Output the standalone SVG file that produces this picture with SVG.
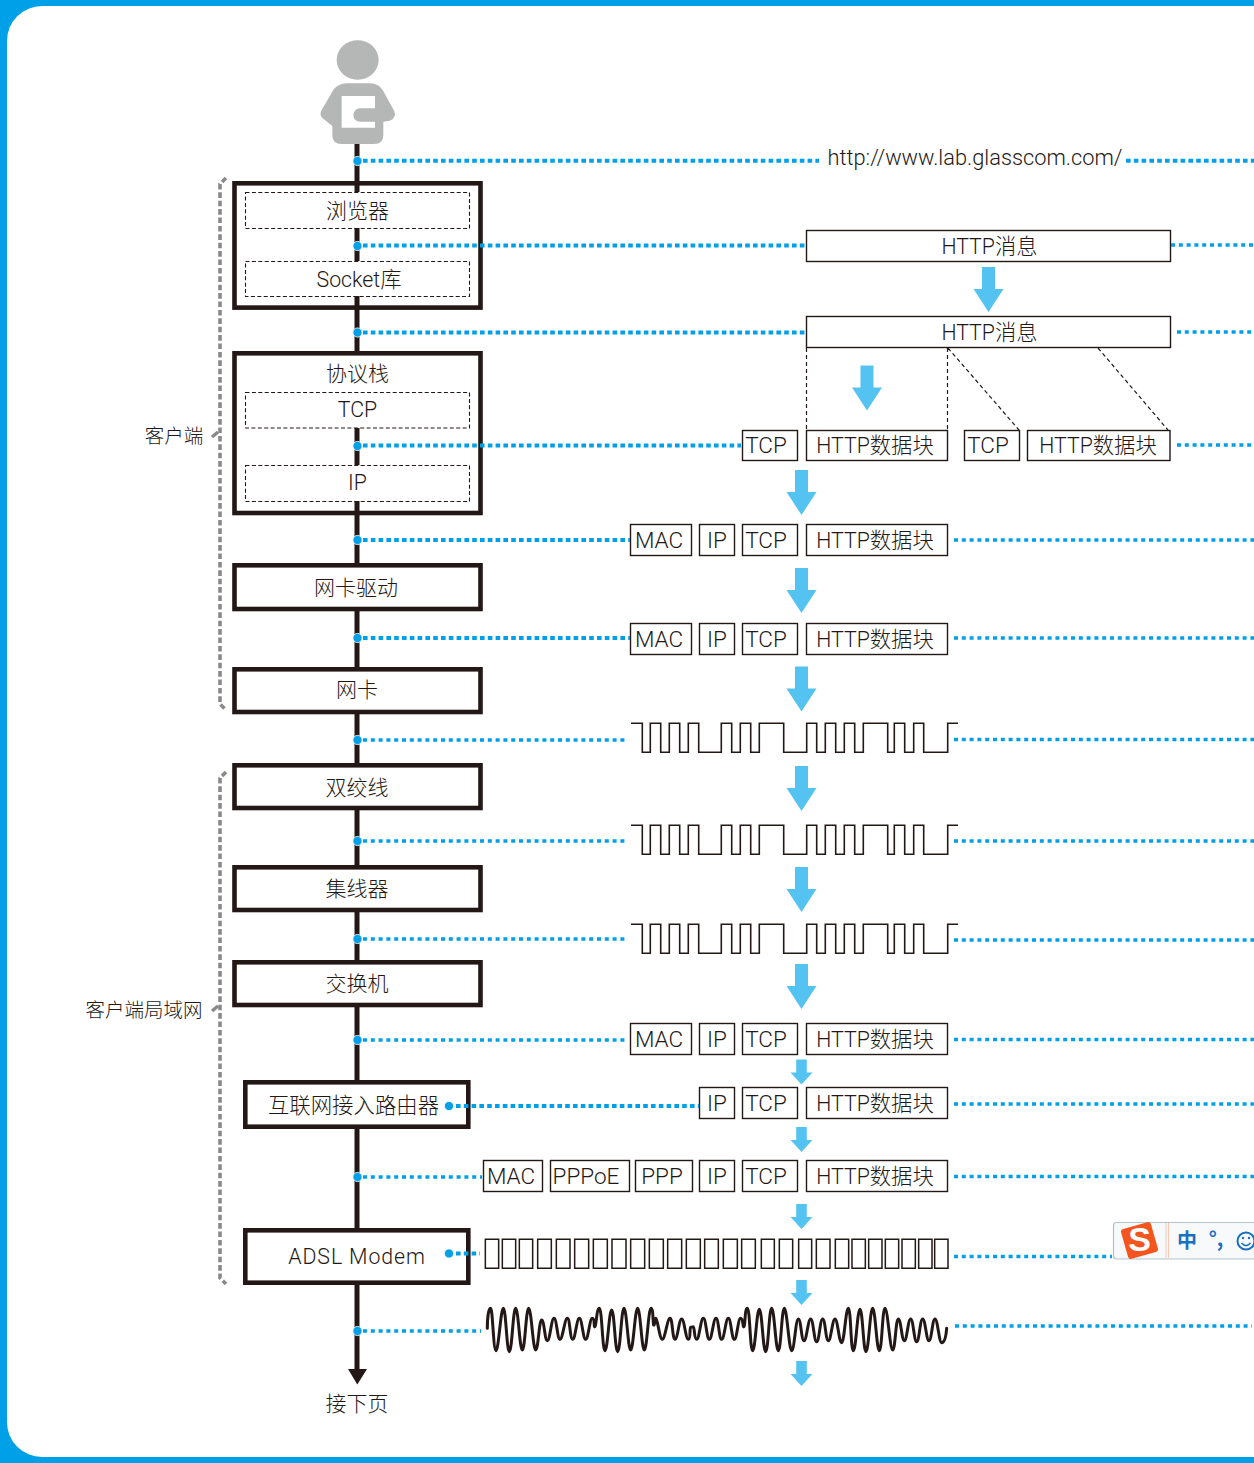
<svg xmlns="http://www.w3.org/2000/svg" xmlns:xlink="http://www.w3.org/1999/xlink" width="1254" height="1463" viewBox="0 0 1254 1463">
<style>
text{font-family:"Roboto","Noto Sans CJK SC",sans-serif;font-weight:300;fill:#231815;text-anchor:middle}
.cjk{font-family:"Noto Sans CJK SC",sans-serif;font-weight:300;font-size:21px}
.side{font-family:"Noto Sans CJK SC",sans-serif;font-weight:300;font-size:19.5px}
.mix{font-size:21.3px}
.lat{font-size:22.5px}
.outer{fill:#fff;stroke:#231815;stroke-width:4.6}
.dash{fill:#fff;stroke:#231815;stroke-width:1.1;stroke-dasharray:4 2.4}
.cell{fill:#fff;stroke:#231815;stroke-width:1.4}
.split{fill:none;stroke:#231815;stroke-width:1.2;stroke-dasharray:4 3}
.spine{stroke:#231815;stroke-width:5;fill:none}
.dot{stroke:#00a0e9;stroke-width:4;stroke-dasharray:4.6 3.2;fill:none}
.dotR{stroke:#00a0e9;stroke-width:3.5;stroke-dasharray:4 3.8;fill:none}
.node{fill:#00a0e9;stroke:#fff;stroke-width:.8}
.brace{stroke:#898989;stroke-width:3.6;stroke-dasharray:5.6 2.8;fill:none}
.tick{stroke:#898989;stroke-width:3.4;fill:none}
.wave{fill:none;stroke:#231815;stroke-width:1.6}
.flow{fill:#55c3f2}
.ime{font-family:"Noto Sans CJK SC",sans-serif;font-weight:700;fill:#1a6fc0}
</style>
<defs>
<polygon id="big" points="-6.5,0 6.5,0 6.5,22 15,22 0,45 -15,22 -6.5,22"/>
<polygon id="small" points="-5.3,0 5.3,0 5.3,13 11,13 0,25 -11,13 -5.3,13"/>
<path id="sq" d="M631,723.3H642.3V752.3H650.3V723.3H660.7V752.3H669.3V723.3H679.7V752.3H688.3V723.3H698.7V752.3H721.3V723.3H731.7V752.3H740.3V723.3H750.7V752.3H759.3V723.3H783.7V752.3H806.7V723.3H816.7V752.3H825.3V723.3H835.7V752.3H844.3V723.3H854.7V752.3H863.3V723.3H887.7V752.3H894.3V723.3H904.7V752.3H913.7V723.3H923.7V752.3H947.7V723.3H958"/>
</defs>
<rect width="1254" height="1463" fill="#00a0e9"/>
<path d="M1254,6H42A35,35 0 0 0 7,41V1422A35,35 0 0 0 42,1457H1254Z" fill="#fff"/>

<g id="user" transform="translate(200,20) scale(.33333)">
<ellipse cx="473" cy="120" rx="63" ry="59" fill="#b5b6b6"/>
<path d="M440,190H510Q535,190 548,210L580,268Q590,285 580,295Q572,305 550,305V345Q550,372 522,372H425Q397,372 397,345V318L368,295Q355,283 368,265L400,210Q415,190 440,190Z" fill="#b5b6b6"/>
<path d="M425,228H525V265H480A20,20 0 0 0 480,305H525V323H425Z" fill="#fff"/>
</g>

<g id="url"><text x="975" y="165" font-size="21.8">http://www.lab.glasscom.com/</text></g>

<g id="client-brace"><path class="brace" d="M226,178L220,184V704L226,710"/><path class="tick" d="M212,437L218,432"/><text class="side" x="174" y="443">客户端</text></g>
<g id="lan-brace"><path class="brace" d="M226,772L220,778V1278L226,1284"/><path class="tick" d="M212,1011L218,1006"/><text class="side" x="144" y="1017">客户端局域网</text></g>

<g id="browser-socket">
<rect class="outer" x="234.5" y="183.3" width="246" height="124.3"/>
<rect class="dash" x="245.5" y="192.5" width="224" height="36"/>
<text class="cjk" x="357.5" y="218">浏览器</text>
<rect class="dash" x="245.5" y="261.5" width="224" height="35"/>
<text class="mix" x="359" y="287">Socket库</text>
</g>
<g id="protocol-stack">
<rect class="outer" x="234.5" y="353.3" width="246" height="159.7"/>
<text class="cjk" x="357.5" y="381">协议栈</text>
<rect class="dash" x="245.5" y="392.5" width="224" height="35.5"/>
<text class="mix" x="357.5" y="417">TCP</text>
<rect class="dash" x="245.5" y="465.5" width="224" height="36"/>
<text class="mix" x="357.5" y="490">IP</text>
</g>
<g id="nic-driver"><rect class="outer" x="234.5" y="565.3" width="246" height="43.7"/><text class="cjk" x="356" y="595">网卡驱动</text></g>
<g id="nic"><rect class="outer" x="234.5" y="669.3" width="246" height="42.7"/><text class="cjk" x="357" y="697">网卡</text></g>
<g id="twisted-pair"><rect class="outer" x="234.5" y="765.3" width="246" height="42.7"/><text class="cjk" x="357" y="795">双绞线</text></g>
<g id="hub"><rect class="outer" x="234.5" y="867.3" width="246" height="42.7"/><text class="cjk" x="357" y="896">集线器</text></g>
<g id="switch"><rect class="outer" x="234.5" y="962.3" width="246" height="42.7"/><text class="cjk" x="357" y="991">交换机</text></g>
<g id="router"><rect class="outer" x="245.3" y="1082.3" width="223" height="44.4"/><text class="cjk" x="353.5" y="1113" font-size="21.4" style="font-size:21.4px">互联网接入路由器</text></g>
<g id="modem"><rect class="outer" x="245.3" y="1230.3" width="223" height="52.4"/><text class="mix" x="357" y="1264" letter-spacing=".9">ADSL Modem</text></g>
<g id="next"><text class="cjk" x="357" y="1411">接下页</text></g>

<g id="http-msg-1"><rect class="cell" x="806.5" y="230.5" width="364" height="31"/><text class="mix" x="989.5" y="254">HTTP消息</text></g>
<g id="http-msg-2"><rect class="cell" x="806.5" y="316.5" width="364" height="31"/><text class="mix" x="989.5" y="340">HTTP消息</text></g>
<g id="split-lines"><path class="split" d="M806.5,348V430M947.5,348V430M948,348L1019,430M1098,348L1168,430"/></g>

<g id="tcp-segments">
<rect class="cell" x="742.5" y="430.5" width="55" height="30"/><text class="lat" x="766" y="453">TCP</text>
<rect class="cell" x="806.5" y="430.5" width="141" height="30"/><text class="mix" x="875" y="453">HTTP数据块</text>
<rect class="cell" x="964.5" y="430.5" width="55" height="30"/><text class="lat" x="988" y="453">TCP</text>
<rect class="cell" x="1027.5" y="430.5" width="142.5" height="30"/><text class="mix" x="1098" y="453">HTTP数据块</text>
</g>
<g id="frame-1" transform="translate(0,524)">
<rect class="cell" x="630.5" y=".5" width="61" height="31"/><text class="lat" x="659" y="24">MAC</text>
<rect class="cell" x="699.5" y=".5" width="35" height="31"/><text class="lat" x="717" y="24">IP</text>
<rect class="cell" x="742.5" y=".5" width="55" height="31"/><text class="lat" x="766" y="24">TCP</text>
<rect class="cell" x="806.5" y=".5" width="141" height="31"/><text class="mix" x="875" y="24">HTTP数据块</text>
</g>
<g id="frame-2" transform="translate(0,623)">
<rect class="cell" x="630.5" y=".5" width="61" height="31"/><text class="lat" x="659" y="24">MAC</text>
<rect class="cell" x="699.5" y=".5" width="35" height="31"/><text class="lat" x="717" y="24">IP</text>
<rect class="cell" x="742.5" y=".5" width="55" height="31"/><text class="lat" x="766" y="24">TCP</text>
<rect class="cell" x="806.5" y=".5" width="141" height="31"/><text class="mix" x="875" y="24">HTTP数据块</text>
</g>
<g id="signal-1"><use href="#sq" class="wave"/></g>
<g id="signal-2"><use href="#sq" class="wave" y="102"/></g>
<g id="signal-3"><use href="#sq" class="wave" y="201"/></g>
<g id="frame-3" transform="translate(0,1023)">
<rect class="cell" x="630.5" y=".5" width="61" height="31"/><text class="lat" x="659" y="24">MAC</text>
<rect class="cell" x="699.5" y=".5" width="35" height="31"/><text class="lat" x="717" y="24">IP</text>
<rect class="cell" x="742.5" y=".5" width="55" height="31"/><text class="lat" x="766" y="24">TCP</text>
<rect class="cell" x="806.5" y=".5" width="141" height="31"/><text class="mix" x="875" y="24">HTTP数据块</text>
</g>
<g id="packet-ip" transform="translate(0,1087)">
<rect class="cell" x="699.5" y=".5" width="35" height="31"/><text class="lat" x="717" y="24">IP</text>
<rect class="cell" x="742.5" y=".5" width="55" height="31"/><text class="lat" x="766" y="24">TCP</text>
<rect class="cell" x="806.5" y=".5" width="141" height="31"/><text class="mix" x="875" y="24">HTTP数据块</text>
</g>
<g id="frame-pppoe" transform="translate(0,1160)">
<rect class="cell" x="483.5" y=".5" width="59" height="31"/><text class="lat" x="511" y="24">MAC</text>
<rect class="cell" x="550.5" y=".5" width="79" height="31"/><text class="lat" x="586" y="24">PPPoE</text>
<rect class="cell" x="635.5" y=".5" width="57" height="31"/><text class="lat" x="662" y="24">PPP</text>
<rect class="cell" x="699.5" y=".5" width="35" height="31"/><text class="lat" x="717" y="24">IP</text>
<rect class="cell" x="742.5" y=".5" width="55" height="31"/><text class="lat" x="766" y="24">TCP</text>
<rect class="cell" x="806.5" y=".5" width="141" height="31"/><text class="mix" x="875" y="24">HTTP数据块</text>
</g>
<g id="adsl-cells" fill="none" stroke="#231815" transform="translate(470,1200) scale(.33333)">
<path stroke-width="4.5" d="M46,118H86V205H46ZM97,118H137V205H97ZM148,118H188V205H148ZM203,118H244V205H203ZM259,118H300V205H259ZM314,118H356V205H314ZM370,118H412V205H370ZM426,118H468V205H426ZM482,118H524V205H482ZM538,118H580V205H538ZM593,118H635V205H593ZM649,118H691V205H649ZM704,118H745V205H704ZM760,118H802V205H760ZM815,118H856V205H815ZM874,118H913V205H874ZM928,118H968V205H928ZM986,118H1025V205H986ZM1039,118H1080V205H1039ZM1096,118H1136V205H1096ZM1146,118H1186V205H1146ZM1196,118H1236V205H1196ZM1246,118H1286V205H1246ZM1296,118H1336V205H1296ZM1346,118H1386V205H1346ZM1394,118H1434V205H1394Z"/>
</g>
<g id="adsl-wave" fill="none" stroke="#231815" stroke-linecap="round" transform="translate(470,1200) scale(.33333)">
<path stroke-width="9" d="M52,385C52,350 56,325 62,325S70,452 78,452S92,325 100,325S110,455 118,455S129,325 137,325S149,450 157,450S168,325 176,325S189,450 197,450S207,360 215,360S224,422 232,422S244,355 252,355S262,418 270,418S284,355 292,355S300,418 308,418S320,355 328,355S339,418 347,418S359,355 367,355S371,385 375,380S380,325 388,325S397,452 405,452S417,330 425,330S435,455 443,455S454,325 462,325S474,450 482,450S495,325 503,325S515,450 523,450S535,325 543,325S548,380 552,375S554,355 558,355S569,418 577,418S592,355 600,355S607,418 615,418S627,357 635,357S647,418 655,418S658,382 662,382S666,380 670,380S672,418 680,418S692,355 700,355S710,418 718,418S730,355 738,355S747,418 755,418S767,355 775,355S785,418 793,418S804,355 812,355S818,385 822,380S824,325 832,325S840,452 848,452S860,328 868,328S879,455 887,455S897,325 905,325S917,452 925,452S935,325 943,325S957,452 965,452S977,357 985,357S994,422 1002,422S1014,357 1022,357S1032,425 1040,425S1050,357 1058,357S1067,422 1075,422S1087,357 1095,357S1107,428 1115,428S1127,325 1135,325S1142,452 1150,452S1162,328 1170,328S1180,455 1188,455S1200,325 1208,325S1220,452 1228,452S1237,325 1245,325S1260,450 1268,450S1277,357 1285,357S1295,422 1303,422S1314,357 1322,357S1332,425 1340,425S1350,357 1358,357S1369,422 1377,422S1387,357 1395,357S1407,428 1415,428S1428,410 1430,385"/>
</g>

<g id="ime-bar">
<rect x="1113.5" y="1222.5" width="145" height="36.5" rx="3" fill="#f7f9fb" stroke="#b4c2ce" stroke-width="1.2"/>
<line x1="1166" y1="1223" x2="1166" y2="1258" stroke="#f8c8b4" stroke-width="1"/>
<line x1="1168.5" y1="1223" x2="1168.5" y2="1258" stroke="#f8c8b4" stroke-width="1"/>
<rect x="1124" y="1225" width="31" height="31" rx="3" fill="#f4551f" transform="rotate(-16 1139.5 1240.5)"/>
<text x="1139.5" y="1251" font-size="34" style="font-family:'Liberation Sans',sans-serif;font-weight:700;fill:#fff">S</text>
<text class="ime" x="1187" y="1248" font-size="20">中</text>
<text class="ime" x="1216" y="1246" font-size="20">°,</text>
<circle cx="1246" cy="1241" r="8.5" fill="none" stroke="#1a6fc0" stroke-width="2"/>
<circle cx="1243" cy="1238" r="1.2" fill="#1a6fc0"/><circle cx="1249" cy="1238" r="1.2" fill="#1a6fc0"/>
<path d="M1241.5,1243Q1246,1248 1250.5,1243" fill="none" stroke="#1a6fc0" stroke-width="1.6"/>
</g>

<g id="connectors">
<path class="spine" d="M357,144V192M357,228V261M357,296V352M357,428V465M357,501V563M357,611V667M357,714V763M357,810V865M357,912V960M357,1007V1080M357,1129V1228M357,1285V1371"/>
<polygon points="348,1369 367,1369 357.3,1384.5" fill="#231815"/>
<g>
<path class="dot" d="M363,160.8H819M1126,160.8H1254"/>
<path class="dot" d="M363,245.5H805"/><path class="dotR" d="M1171,245H1254"/>
<path class="dot" d="M363,332.5H806"/><path class="dotR" d="M1177,332H1254"/>
<path class="dot" d="M363,445.5H741"/><path class="dotR" d="M1177,445H1254"/>
<path class="dot" d="M363,540H630"/><path class="dotR" d="M954,540H1254"/>
<path class="dot" d="M363,638H630"/><path class="dotR" d="M954,638H1254"/>
<path class="dotR" d="M363,740H625M954,739.5H1254"/>
<path class="dotR" d="M363,841H625M954,841H1254"/>
<path class="dotR" d="M363,939H625M954,940H1254"/>
<path class="dotR" d="M363,1040H625M954,1039.5H1254"/>
<path class="dot" d="M456,1106H699"/><path class="dotR" d="M954,1104H1254"/>
<path class="dotR" d="M363,1177H482M954,1176.5H1254"/>
<path class="dot" d="M456,1253.5H480"/><path class="dotR" d="M954,1256.5H1112"/>
<path class="dotR" d="M363,1331H481M955,1326H1252"/>
</g>
<g>
<circle class="node" cx="357.5" cy="161" r="4.6"/><circle class="node" cx="357.5" cy="246" r="4.6"/><circle class="node" cx="357.5" cy="332.5" r="4.6"/><circle class="node" cx="357.5" cy="446" r="4.6"/><circle class="node" cx="357.5" cy="540" r="4.6"/><circle class="node" cx="357.5" cy="638" r="4.6"/><circle class="node" cx="357.5" cy="740" r="4.6"/><circle class="node" cx="357.5" cy="841" r="4.6"/><circle class="node" cx="357.5" cy="939" r="4.6"/><circle class="node" cx="357.5" cy="1040" r="4.6"/><circle class="node" cx="449" cy="1106" r="4.6"/><circle class="node" cx="357.5" cy="1177" r="4.6"/><circle class="node" cx="449" cy="1253.5" r="4.6"/><circle class="node" cx="357.5" cy="1331" r="4.6"/>
</g>
<g class="flow">
<use href="#big" x="988.5" y="267"/><use href="#big" x="867" y="365.5"/>
<use href="#big" x="801.5" y="470"/><use href="#big" x="801.5" y="568"/><use href="#big" x="801.5" y="666.5"/><use href="#big" x="801.5" y="766"/><use href="#big" x="801.5" y="867"/><use href="#big" x="801.5" y="964"/>
<use href="#small" x="801.5" y="1059.5"/><use href="#small" x="801.5" y="1127"/><use href="#small" x="801.5" y="1204"/><use href="#small" x="801.5" y="1280"/><use href="#small" x="801.5" y="1361"/>
</g>
</g>
</svg>
